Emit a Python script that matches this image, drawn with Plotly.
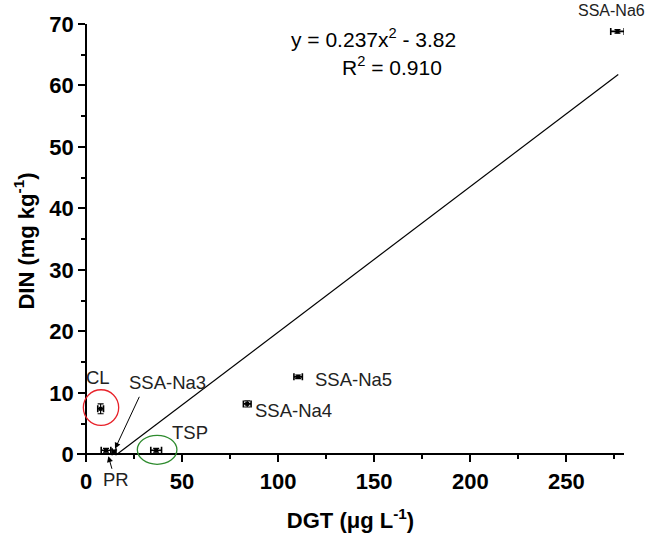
import plotly.graph_objects as go

# ---- data ----
labels = ["CL", "PR", "SSA-Na3", "TSP", "SSA-Na4", "SSA-Na5", "SSA-Na6"]
dgt = [7.6, 10.4, 14.6, 36.5, 83.9, 110.4, 276.6]
din = [7.4, 0.65, 0.4, 0.65, 8.2, 12.6, 68.8]
dgt_err = [1.5, 2.5, 1.0, 2.8, 2.0, 2.2, 3.5]
din_err = [0.8, 0.3, 0.3, 0.3, 0.5, 0.3, 0.3]

fit_x = [16.1, 277.0]
fit_y = [0.0, 61.8]

x_ticks = [0, 50, 100, 150, 200, 250]
y_ticks = [0, 10, 20, 30, 40, 50, 60, 70]

XR = [-4.7, 280]
YR = [-0.6, 70.0]

FONT = "Arial, Liberation Sans, sans-serif"

fig = go.Figure()

fig.add_trace(go.Scatter(
    x=fit_x, y=fit_y, mode="lines",
    line=dict(color="black", width=1.2),
    showlegend=False, hoverinfo="skip"))

fig.add_trace(go.Scatter(
    x=dgt, y=din, mode="markers",
    marker=dict(symbol="square", size=4, color="black"),
    error_x=dict(type="data", array=dgt_err, visible=True, color="black", thickness=1.6, width=3.5),
    error_y=dict(type="data", array=din_err, visible=True, color="black", thickness=1.2, width=3),
    cliponaxis=False, showlegend=False))


def to_dom(v, r):
    return (v - r[0]) / (r[1] - r[0])


def ellipse(cx, cy, rx, ry, color):
    fig.add_shape(type="circle", xref="x domain", yref="y domain",
                  x0=to_dom(cx - rx, XR), x1=to_dom(cx + rx, XR),
                  y0=to_dom(cy - ry, YR), y1=to_dom(cy + ry, YR),
                  line=dict(color=color, width=1.3))


ellipse(7.8, 7.6, 9.2, 2.9, "#e8222a")
ellipse(37.0, 0.73, 10.3, 2.36, "#2e8b2e")

# point labels (placed in axis-domain space so that labels outside the range still show)
lab_pos = {
    "CL": (6.3, 12.5, "center", 18.5),
    "SSA-Na3": (21.4, 11.7, "left", 18.5),
    "TSP": (43.7, 3.6, "left", 18.5),
    "PR": (15.6, -4.1, "center", 18.5),
    "SSA-Na4": (87.0, 7.15, "left", 18.5),
    "SSA-Na5": (118.2, 12.2, "left", 18.5),
    "SSA-Na6": (273.4, 72.2, "center", 16),
}
for name, (lx, ly, anc, fs) in lab_pos.items():
    fig.add_annotation(x=to_dom(lx, XR), y=to_dom(ly, YR), xref="x domain", yref="y domain",
                       text=name, showarrow=False, xanchor=anc,
                       yanchor="middle", font=dict(family=FONT, size=fs, color="#222"))

# arrows
fig.add_annotation(x=15.1, y=0.9, ax=28.1, ay=9.6, axref="x", ayref="y", text="",
                   showarrow=True, arrowhead=2, arrowsize=1.2, arrowwidth=1, arrowcolor="black")
fig.add_annotation(x=11.6, y=-0.3, ax=13.7, ay=-2.6, axref="x", ayref="y", text="",
                   showarrow=True, arrowhead=2, arrowsize=1.2, arrowwidth=1, arrowcolor="black")

# equation
fig.add_annotation(x=149.5, y=67.8, text="y = 0.237x<sup>2</sup> - 3.82", showarrow=False,
                   font=dict(family=FONT, size=21, color="black"))
fig.add_annotation(x=159.5, y=63.1, text="R<sup>2</sup> = 0.910", showarrow=False,
                   font=dict(family=FONT, size=21, color="black"))

fig.update_layout(
    width=657, height=538,
    margin=dict(l=77, r=33, t=24, b=80, autoexpand=False),
    paper_bgcolor="white", plot_bgcolor="white",
    font=dict(family=FONT, color="black"),
    xaxis=dict(
        range=XR, domain=[0, 1], anchor="free", position=to_dom(0, YR), automargin=False,
        showgrid=False, zeroline=False, showline=True, linecolor="black", linewidth=1.6,
        ticks="outside", ticklen=7, tickwidth=1.5, tickcolor="black",
        tickvals=x_ticks, ticktext=[f"<b>{v}</b>" for v in x_ticks],
        tickfont=dict(family=FONT, size=22, color="black"),
        minor=dict(dtick=25, tick0=0, ticks="outside", ticklen=4, tickwidth=1.5, tickcolor="black"),
        title=dict(text="<b>DGT (μg L<sup>-1</sup>)</b>", font=dict(family=FONT, size=22), standoff=19),
    ),
    yaxis=dict(
        range=YR, domain=[0, 1], anchor="free", position=to_dom(0, XR), automargin=False,
        showgrid=False, zeroline=False, showline=True, linecolor="black", linewidth=1.6,
        ticks="outside", ticklen=7, tickwidth=1.5, tickcolor="black",
        tickvals=y_ticks, ticktext=[f"<b>{v}</b>" for v in y_ticks],
        tickfont=dict(family=FONT, size=22, color="black"),
        minor=dict(dtick=5, tick0=0, ticks="outside", ticklen=4, tickwidth=1.5, tickcolor="black"),
        title=dict(text="<b>DIN (mg kg<sup>-1</sup>)</b>", font=dict(family=FONT, size=22), standoff=8),
    ),
)

# remove the browser's default 8px body margin so the figure fills the window exactly
fig.write_html("out.html", config={"displayModeBar": False},
               post_script="document.body.style.margin='0';")
